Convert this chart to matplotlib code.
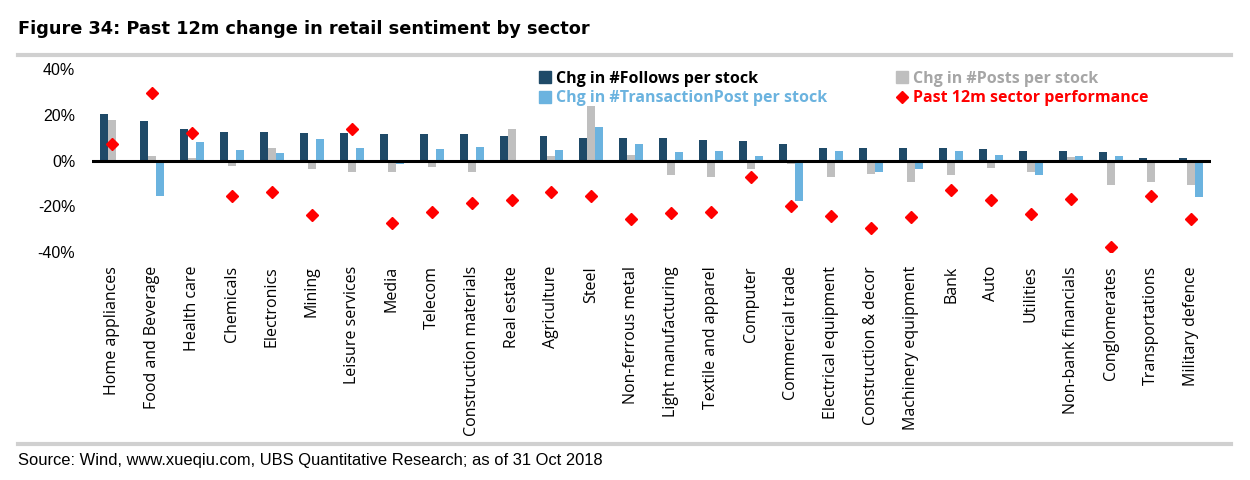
import numpy as np
import matplotlib.pyplot as plt
from matplotlib.lines import Line2D

sectors = ['Home appliances', 'Food and Beverage', 'Health care', 'Chemicals',
           'Electronics', 'Mining', 'Leisure services', 'Media', 'Telecom',
           'Construction materials', 'Real estate', 'Agriculture', 'Steel',
           'Non-ferrous metal', 'Light manufacturing', 'Textile and apparel',
           'Computer', 'Commercial trade', 'Electrical equipment',
           'Construction & decor', 'Machinery equipment', 'Bank', 'Auto',
           'Utilities', 'Non-bank financials', 'Conglomerates',
           'Transportations', 'Military defence']

follows = [20.5, 17.5, 14.0, 12.7, 12.7, 12.2, 12.2, 11.8, 11.8, 11.4, 10.9,
           10.9, 10.0, 10.0, 10.0, 9.2, 8.7, 7.4, 5.7, 5.7, 5.7, 5.7, 5.2,
           4.4, 4.4, 3.9, 1.3, 1.3]
posts = [17.9, 2.2, 1.3, -2.2, 5.7, -3.9, -5.2, -4.8, -2.6, -4.8, 14.0, 2.2,
         24.0, 2.6, -6.1, -7.4, -3.5, -1.7, -7.4, -5.7, -9.2, -6.1, -3.1,
         -5.2, 1.7, -10.5, -9.2, -10.5]
trans_posts = [0.0, -15.7, 8.3, 4.8, 3.1, 9.6, 5.7, -1.3, 5.2, 6.1, 0.0, 4.8,
               14.8, 7.4, 3.9, 4.4, 2.2, -17.8, 4.4, -4.8, -3.9, 4.4, 2.6,
               -6.1, 2.2, 2.2, -0.9, -16.0]
perf = [7.4, 29.4, 12.1, -15.4, -13.8, -23.6, 14.0, -27.5, -22.3, -18.6,
        -17.3, -13.8, -15.4, -25.6, -23.1, -22.6, -7.0, -19.9, -24.3, -29.3,
        -24.7, -12.7, -17.3, -23.4, -16.7, -37.6, -15.6, -25.6]

c_follow = '#1F4A68'
c_posts = '#BFBFBF'
c_trans = '#6BB3DF'
c_perf = '#FF0000'

fig = plt.figure(figsize=(12.5, 4.8), dpi=100)
ax = fig.add_axes([0.0736, 0.475, 0.895, 0.381])

x = np.arange(len(sectors))
w = 0.2
ax.bar(x - w, follows, w, color=c_follow, zorder=2)
ax.bar(x, posts, w, color=c_posts, zorder=2)
ax.bar(x + w, trans_posts, w, color=c_trans, zorder=2)
ax.plot(x, perf, linestyle='none', marker='D', markersize=6.5,
        color=c_perf, zorder=3)
ax.axhline(0, color='black', lw=2.2, zorder=4)

ax.set_xlim(-0.5, len(sectors) - 0.5)
ax.set_ylim(-40, 40)
ax.set_yticks([-40, -20, 0, 20, 40])
ax.set_yticklabels(['-40%', '-20%', '0%', '20%', '40%'],
                   fontsize=11.5, family='Liberation Sans')
ax.set_xticks(x)
ax.set_xticklabels(sectors, rotation=90, fontsize=11.5, family='Open Sans')
ax.tick_params(length=0)
ax.tick_params(axis='x', pad=10)
ax.tick_params(axis='y', pad=12)
for s in ax.spines.values():
    s.set_visible(False)

handles = [
    Line2D([], [], ls='none', marker='s', markersize=9, color=c_follow),
    Line2D([], [], ls='none', marker='s', markersize=9, color=c_trans),
    Line2D([], [], ls='none', marker='s', markersize=9, color=c_posts),
    Line2D([], [], ls='none', marker='D', markersize=6, color=c_perf),
]
labels = ['Chg in #Follows per stock', 'Chg in #TransactionPost per stock',
          'Chg in #Posts per stock', 'Past 12m sector performance']
leg = fig.legend(handles, labels, ncol=2, loc='upper left',
                 bbox_to_anchor=(0.419, 0.882), frameon=False,
                 prop={'family': 'Open Sans', 'weight': 'bold', 'size': 11.5},
                 labelcolor=['black', c_trans, '#A6A6A6', c_perf],
                 handletextpad=0.3, columnspacing=4.3, labelspacing=0.2,
                 handlelength=0.8)

fig.text(0.0144, 0.94, 'Figure 34: Past 12m change in retail sentiment by sector',
         fontsize=12.8, fontweight='bold', family='DejaVu Sans', va='center')
fig.add_artist(Line2D([0.0144, 0.985], [0.885, 0.885], color='#D0D0D0', lw=3))
fig.add_artist(Line2D([0.0144, 0.985], [0.074, 0.074], color='#D0D0D0', lw=3))
fig.text(0.0144, 0.04, 'Source: Wind, www.xueqiu.com, UBS Quantitative Research; '
         'as of 31 Oct 2018', fontsize=11.9, family='Liberation Sans',
         va='center')

fig.savefig('out.png', dpi=100)
